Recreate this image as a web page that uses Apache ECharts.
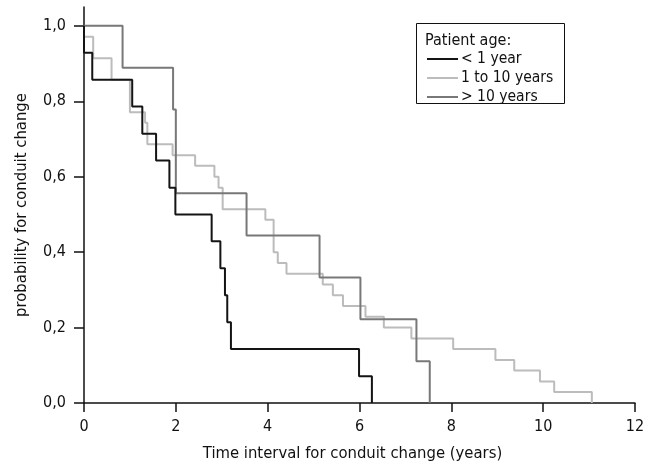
<!DOCTYPE html>
<html>
<head>
<meta charset="utf-8">
<script src="https://cdn.jsdelivr.net/npm/echarts@6/dist/echarts.min.js"></script>
<style>
html,body{margin:0;padding:0;background:#fff;}
#chart{width:657px;height:467px;}
</style>
</head>
<body>
<div id="chart"></div>
<script>
// Kaplan-Meier style step data: [time (years), probability after step]
var seriesNames = ['< 1 year', '1 to 10 years', '> 10 years'];
var under1 = [[0,1],[0,0.929],[0.18,0.857],[1.05,0.786],[1.27,0.714],[1.57,0.643],[1.86,0.571],[1.99,0.5],[2.78,0.429],[2.97,0.357],[3.07,0.286],[3.12,0.214],[3.2,0.143],[5.99,0.071],[6.27,0]];
var oneTo10 = [[0,1],[0,0.971],[0.2,0.914],[0.6,0.857],[1.0,0.771],[1.33,0.743],[1.38,0.686],[1.93,0.657],[2.42,0.629],[2.84,0.6],[2.93,0.571],[3.02,0.514],[3.95,0.486],[4.13,0.4],[4.22,0.371],[4.41,0.343],[5.2,0.314],[5.42,0.286],[5.64,0.257],[6.13,0.229],[6.53,0.2],[7.13,0.171],[8.04,0.143],[8.96,0.114],[9.37,0.086],[9.93,0.057],[10.24,0.029],[11.06,0]];
var over10 = [[0,1],[0.84,0.889],[1.94,0.778],[2.0,0.556],[3.54,0.444],[5.13,0.333],[6.02,0.222],[7.24,0.111],[7.53,0]];
var yTicks = [0, 0.2, 0.4, 0.6, 0.8, 1.0];
var xTicks = [0, 2, 4, 6, 8, 10, 12];

var FONT = '"DejaVu Sans Condensed", "Liberation Sans Narrow", "Open Sans", sans-serif';
var chart = echarts.init(document.getElementById('chart'), null, {renderer: 'canvas'});
function mkSeries(name, data, color, z) {
  return {name: name, type: 'line', step: 'end', data: data, symbol: 'none', showSymbol: false,
    lineStyle: {color: color, width: 2}, itemStyle: {color: color}, z: z, animation: false};
}
chart.setOption({
  animation: false,
  grid: {left: 84, right: 22, top: 7, bottom: 63, containLabel: false},
  xAxis: {
    type: 'value', min: 0, max: 12, interval: 2,
    name: 'Time interval for conduit change (years)', nameLocation: 'middle', nameGap: 42,
    nameTextStyle: {fontFamily: FONT, fontSize: 16.5, color: '#111', padding: [0, 14, 0, 0]},
    axisLine: {show: true, onZero: false, lineStyle: {color: '#111', width: 1.5}},
    axisTick: {show: true, inside: false, length: 9, customValues: xTicks, lineStyle: {color: '#111', width: 1.5}},
    axisLabel: {fontFamily: FONT, fontSize: 16, color: '#111', margin: 16, customValues: xTicks},
    splitLine: {show: false}
  },
  yAxis: {
    type: 'value', min: 0, max: 1.05,
    name: 'probability for conduit change', nameLocation: 'middle', nameGap: 54, nameRotate: 90,
    nameTextStyle: {fontFamily: FONT, fontSize: 16.5, color: '#111'},
    axisLine: {show: true, onZero: false, lineStyle: {color: '#111', width: 1.5}},
    axisTick: {show: true, length: 10, customValues: yTicks, lineStyle: {color: '#111', width: 1.5}},
    axisLabel: {fontFamily: FONT, fontSize: 16, color: '#111', margin: 18, customValues: yTicks,
      formatter: function (v) { return v.toFixed(1).replace('.', ','); }},
    splitLine: {show: false}
  },
  legend: {
    orient: 'vertical', left: 426, top: 51, padding: 0, itemWidth: 31, itemHeight: 14, itemGap: 3,
    data: seriesNames,
    itemStyle: {opacity: 0},
    lineStyle: {width: 2},
    textStyle: {fontFamily: FONT, fontSize: 15.5, lineHeight: 14, color: '#111', padding: [0, 0, 0, -2]}
  },
  graphic: [
    {type: 'rect', shape: {x: 416.5, y: 23.5, width: 148, height: 80}, style: {fill: 'none', stroke: '#111', lineWidth: 1}, z: 0},
    {type: 'text', x: 425, y: 41, style: {text: 'Patient age:', font: '16px ' + FONT, fill: '#111', verticalAlign: 'middle'}}
  ],
  series: [
    mkSeries(seriesNames[1], oneTo10, '#bcbcbc', 2),
    mkSeries(seriesNames[2], over10, '#787878', 3),
    mkSeries(seriesNames[0], under1, '#141414', 4)
  ]
});
</script>
</body>
</html>
